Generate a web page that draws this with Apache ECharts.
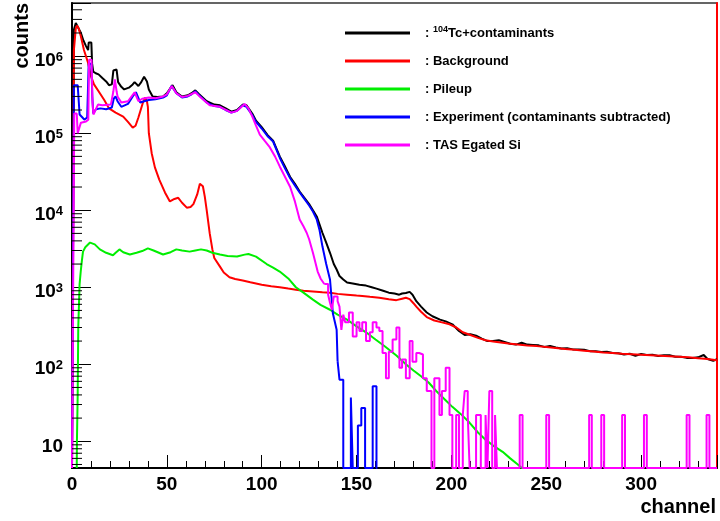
<!DOCTYPE html>
<html><head><meta charset="utf-8">
<script src="https://cdn.jsdelivr.net/npm/echarts@6/dist/echarts.min.js"></script>
<style>html,body{margin:0;padding:0;background:#fff}#c{width:720px;height:521px}</style>
</head><body><div id="c"></div>
<script>
// ---------------- data (channel, counts) ----------------
const seriesNames = ['104Tc+contaminants', 'Background', 'Pileup', 'Experiment (contaminants subtracted)', 'TAS Egated Si'];
const xTickLabels = [0, 50, 100, 150, 200, 250, 300];
const yTickLabels = [10, 100, 1000, 10000, 100000, 1000000];
const yMinorTicks = [5,6,7,8,9,20,30,40,50,60,70,80,90,200,300,400,500,600,700,800,900,
  2000,3000,4000,5000,6000,7000,8000,9000,20000,30000,40000,50000,60000,70000,80000,90000,
  200000,300000,400000,500000,600000,700000,800000,900000,2000000,3000000,4000000];

const tcData = [[0,0],[0.8,0],[1,2.2e6],[2,2.7e6],[3,2.6e6],[4.7,2.0e6],[6,1.6e6],[7.4,1.35e6],[8.5,1.2e6],[8.8,1.5e6],[10.2,1.5e6],[10.6,8e5],[11.2,6.3e5],[12.5,6.0e5],[14,5.8e5],[16,5.2e5],[18,4.7e5],[19.5,4.2e5],[21,4.3e5],[21.8,6.5e5],[23.5,6.7e5],[24.3,4.6e5],[26,4.0e5],[27.5,3.7e5],[30,3.9e5],[32,4.3e5],[33,4.6e5],[35,4.1e5],[36.5,4.6e5],[38,5.4e5],[39.5,4.7e5],[40.5,3.7e5],[42.5,3.0e5],[45,2.95e5],[48,3.0e5],[50,3.3e5],[53,4.2e5],[55,3.4e5],[58,3.0e5],[61,3.1e5],[63,3.3e5],[65,3.6e5],[67,3.2e5],[71,2.6e5],[75,2.35e5],[78,2.3e5],[81,2.1e5],[84,1.9e5],[87,2.0e5],[90,2.35e5],[92,2.3e5],[95,1.8e5],[97,1.45e5],[100,1.2e5],[103,9.5e4],[106,8.0e4],[109.5,5.0e4],[112,3.8e4],[115,2.7e4],[117.5,2.2e4],[120,1.75e4],[122.5,1.45e4],[125,1.2e4],[127,1.0e4],[129,8.3e3],[130.5,6.5e3],[132,5.1e3],[134,3.8e3],[136,2.8e3],[138,2.0e3],[139.5,1.7e3],[141,1.4e3],[143,1.26e3],[145,1.15e3],[148,1.12e3],[151.5,1.08e3],[155,1.05e3],[158,1.0e3],[160.5,960],[164,900],[167,850],[170,830],[172.5,800],[174,830],[176,840],[178,870],[179.5,800],[181.5,660],[184,560],[187,470],[190,420],[194,380],[197,360],[200.5,330],[204,270],[207,240],[210,245],[213,235],[216,215],[219,200],[222,200],[225,205],[228,195],[231,185],[234,180],[237,190],[240,180],[243,178],[246,176],[249,168],[252,173],[255,165],[258,160],[261,162],[264,156],[267,155],[270,154],[273,148],[276,148],[279,144],[282,145],[285,140],[288,139],[291,134],[294,137],[297,129],[300,136],[303,132],[306,133],[309,128],[312,131],[315,131],[318,125],[321,125],[324,121],[327,121],[330,123],[333,132],[335,117],[338,111],[340,116]];

const bgData = [[0,0],[0.8,0],[1,1.2e6],[2,2.3e6],[2.6,2.5e6],[3.5,2.3e6],[4.7,1.8e6],[6.3,1.2e6],[8.4,8.3e5],[10,5.5e5],[11.6,4.3e5],[14,3.5e5],[17,2.7e5],[19.5,2.1e5],[23,1.85e5],[27,1.64e5],[29.5,1.4e5],[32,1.18e5],[33.5,1.25e5],[35,1.6e5],[37.4,2.5e5],[38.5,2.9e5],[39.5,2.6e5],[40,2.2e5],[40.5,1.0e5],[42,5.5e4],[43.7,3.6e4],[46,2.5e4],[49,1.7e4],[51.6,1.3e4],[54,1.4e4],[56,1.45e4],[58,1.25e4],[60.5,1.08e4],[62.5,1.1e4],[64,1.2e4],[66,1.6e4],[67.4,2.2e4],[69,2.05e4],[70,1.5e4],[71,1.0e4],[72.6,5.0e3],[74,3.1e3],[75,2.4e3],[78,1.85e3],[80,1.55e3],[83,1.35e3],[86,1.28e3],[90,1.22e3],[94,1.16e3],[100,1.08e3],[105,1.03e3],[109.5,1.0e3],[114,960],[118,930],[122,900],[127,880],[132,860],[136,850],[140,820],[145,800],[150,780],[153,770],[157,750],[162,730],[167,700],[171,680],[174,710],[176,730],[178,700],[180,620],[181.5,560],[184,480],[187,410],[191,370],[195,350],[199,330],[202.6,300],[206,260],[210,240],[214,220],[218,205],[222,198],[226,192],[230,186],[235,180],[240,175],[245,172],[250,168],[255,163],[260,158],[265,154],[270,150],[275,146],[280,142],[285,140],[290,137],[295,135],[300,133],[305,131],[310,129],[315,127],[320,125],[325,123],[330,120],[335,117],[340,113]];

const pileupData = [[2.5,0],[2.6,10],[3.0,40],[3.3,300],[4.0,1100],[4.6,1600],[5.2,2200],[5.8,2900],[7,3300],[9.5,3800],[10.5,3800],[12,3600],[14.7,3100],[18,2800],[21.6,2600],[23,2800],[25,3100],[27,2850],[30.5,2660],[34,2800],[37,2950],[40,3200],[43,3000],[48,2660],[52,2850],[55,3100],[58,3000],[62,2900],[65,3000],[68,3100],[71,3000],[74,2800],[78,2660],[82,2550],[87,2500],[91,2650],[93,2700],[97,2500],[102.6,2000],[106,1800],[109.5,1600],[114,1300],[118,1000],[122,850],[127,690],[131,590],[136,510],[140,440],[145,380],[150,310],[155,260],[160,210],[165,170],[171,130],[176,100],[180,83],[184,70],[188,58],[192,45],[196,36],[200.5,28],[205,22.5],[209.5,17.5],[214,13],[218,10.5],[222,8.8],[227,7.3],[231,6.0],[235,5.0],[238,4.3]];

const expData = [[0,0],[0.8,0],[1,4.2e5],[3,4.2e5],[3.6,2.5e5],[4,1.75e5],[5.5,1.6e5],[6.5,1.5e5],[8,1.6e5],[8.8,8.0e5],[10.2,8.0e5],[10.7,3.0e5],[11.2,1.8e5],[12.6,2.05e5],[15,2.1e5],[18,2.05e5],[21,2.15e5],[22,2.8e5],[23,3.0e5],[24,2.6e5],[26,2.2e5],[29.5,2.4e5],[32,3.0e5],[33.7,3.4e5],[36,2.5e5],[38,2.6e5],[40.5,2.7e5],[44,2.75e5],[48,2.9e5],[50,3.1e5],[52.5,4.1e5],[55,3.3e5],[58,2.9e5],[61,3.0e5],[63,3.2e5],[65,3.5e5],[67,3.1e5],[71,2.5e5],[75,2.25e5],[78,2.2e5],[81,2.0e5],[84,1.85e5],[87,1.95e5],[90,2.3e5],[92,2.2e5],[95,1.72e5],[97,1.4e5],[100,1.15e5],[103,9.2e4],[106,7.8e4],[109.5,4.8e4],[112,3.6e4],[115,2.6e4],[117.5,2.1e4],[120,1.7e4],[122.5,1.4e4],[125,1.15e4],[127,9.6e3],[129,7.6e3],[130.5,5.5e3],[132,3.4e3],[134,2.0e3],[136,1.26e3],[137.5,460],[139.5,280],[140,110]];
const expTail = [[140,110],[141,63],[143,0],[147,37],[148,0],[150.7,16],[152.5,27],[154.5,0],[158.5,52],[160.5,0],[161,0]];

const tasData = [[0,0],[1,0],[1.2,1.8e5],[2.5,1.8e5],[3,1.0e5],[3.8,1.0e5],[4.7,1.37e5],[7.4,1.42e5],[8.6,1.5e5],[9,9.0e5],[10.3,9.0e5],[10.8,2.5e5],[11.3,1.75e5],[13.7,2.35e5],[16,2.3e5],[20.5,2.35e5],[21.8,3.5e5],[22.6,5.0e5],[23.5,3.5e5],[24,3.0e5],[26,2.5e5],[29.5,2.6e5],[33,3.4e5],[35,2.6e5],[37,2.8e5],[40.5,2.9e5],[44,2.85e5],[48,3.0e5],[50,3.2e5],[52.6,4.1e5],[55,3.3e5],[58,2.95e5],[61,3.05e5],[65,3.4e5],[67,3.05e5],[72.6,2.3e5],[78,2.2e5],[84,1.85e5],[87,1.95e5],[91,2.4e5],[93,2.1e5],[95,1.65e5],[97,1.25e5],[99,9.6e4],[101.5,8.0e4],[104,6.7e4],[107,5.0e4],[109.5,3.7e4],[112,2.8e4],[115,2.0e4],[117.5,1.3e4],[120,7.6e3],[122,6.2e3],[123.7,5.1e3],[125,4.2e3],[127,2.8e3],[129.5,1.6e3],[131,1.3e3],[133,1.1e3]];
const tasTail = [[133,1100],[135,800],[136,630],[137,510],[138,760],[140,660],[141,560],[142,280],[143,440],[144,350],[146,470],[148,230],[150,350],[151.5,270],[153,350],[155,200],[157,260],[158.5,350],[160.5,300],[162,270],[163.7,140],[165.5,66],[167,145],[169,210],[171,300],[172.6,90],[174,115],[176,66],[178,200],[179.5,108],[181.5,140],[183,134],[185,66],[187,45],[189.5,0],[191,66],[193.7,22],[195,45],[197,90],[199,22],[200.5,0],[202.5,22],[204,0],[206,22],[207,45],[208.6,22],[209.6,0],[213,22],[215.5,0],[218,22],[219,0],[220,45],[221.5,0],[223,22],[224,0],[236,22],[237.5,0],[250,22],[251.5,0],[272.6,22],[274,0],[279,22],[280.5,0],[290,22],[291.5,0],[301.5,22],[303,0],[324,22],[325.5,0],[334.5,22],[336,0],[340,0]];

// ---------------- chart ----------------
const Y_MIN = 4.5, Y_MAX = 4.9e6, X_MIN = 0, X_MAX = 340;
const FONT = '"Liberation Sans", Arial, Helvetica, sans-serif';
const toPlot = arr => arr.map(([c, v]) => [c, v > 0 ? v : Y_MIN]); // empty bins drawn on the frame bottom

function hist(name, data, color, step) {
  return {
    name, type: 'line', data: toPlot(data), xAxisIndex: 0, yAxisIndex: 0,
    symbol: 'none', showSymbol: false, step: step ? 'end' : false,
    color, lineStyle: { color, width: 2 }, itemStyle: { color },
    clip: true, silent: true, z: 2
  };
}

const chart = echarts.init(document.getElementById('c'), null, { renderer: 'canvas' });
chart.setOption({
  animation: false,
  backgroundColor: '#fff',
  grid: { left: 72, right: 2, top: 3, bottom: 53, show: true, borderColor: '#333', borderWidth: 1.5, backgroundColor: 'transparent' },
  xAxis: [
    { type: 'value', min: X_MIN, max: X_MAX, interval: 50, position: 'bottom',
      axisLine: { show: true, onZero: false, lineStyle: { color: '#000', width: 2 } },
      axisTick: { show: true, inside: true, length: 13, lineStyle: { color: '#000', width: 1 } },
      splitLine: { show: false },
      axisLabel: { margin: 7, fontFamily: FONT, fontSize: 19, fontWeight: 'bold', color: '#000',
        formatter: v => xTickLabels.includes(v) ? String(v) : '' } },
    { type: 'value', min: X_MIN, max: X_MAX, interval: 10, position: 'bottom',
      axisLine: { show: false }, axisLabel: { show: false }, splitLine: { show: false },
      axisTick: { show: true, inside: true, length: 7, lineStyle: { color: '#000', width: 1 } } }
  ],
  yAxis: [
    { type: 'log', logBase: 10, min: Y_MIN, max: Y_MAX, position: 'left',
      axisLine: { show: true, onZero: false, lineStyle: { color: '#000', width: 2 } },
      axisTick: { show: true, inside: true, length: 19, lineStyle: { color: '#000', width: 1 } },
      splitLine: { show: false },
      axisLabel: { margin: 9, padding: [10, 0, 0, 0],
        formatter: v => {
          const hit = yTickLabels.find(t => Math.abs(t - v) / t < 1e-6);
          if (!hit) return '';
          const e = Math.round(Math.log10(hit));
          return e === 1 ? '{b|10}' : '{b|10}{s|' + e + '}';
        },
        rich: {
          b: { fontFamily: FONT, fontSize: 19, fontWeight: 'bold', color: '#000', lineHeight: 20 },
          s: { fontFamily: FONT, fontSize: 13, fontWeight: 'bold', color: '#000', lineHeight: 14, padding: [0, 0, 8, 0] }
        } } },
    { type: 'log', logBase: 10, min: Y_MIN, max: Y_MAX, position: 'right',
      axisLine: { show: true, onZero: false, lineStyle: { color: '#ff0000', width: 2 } },
      axisTick: { show: false }, axisLabel: { show: false }, splitLine: { show: false } }
  ],
  legend: {
    show: true, orient: 'vertical', left: 340, top: 20, itemWidth: 65, itemHeight: 3, itemGap: 12,
    icon: 'rect', selectedMode: false, data: seriesNames,
    formatter: n => n === seriesNames[0] ? ': {sup|104}Tc+contaminants' : ': ' + n,
    textStyle: { fontFamily: FONT, fontSize: 13, fontWeight: 'bold', color: '#000', lineHeight: 16, padding: [0, 0, 0, 10],
      rich: { sup: { fontFamily: FONT, fontSize: 9, fontWeight: 'bold', color: '#000', verticalAlign: 'top', lineHeight: 10 } } }
  },
  graphic: [
    { type: 'text', x: 32, y: 3, rotation: Math.PI / 2, silent: true,
      style: { text: 'counts', font: 'bold 20px ' + FONT, fill: '#000', align: 'right', verticalAlign: 'bottom' } },
    { type: 'text', x: 716, y: 517, silent: true,
      style: { text: 'channel', font: 'bold 20px ' + FONT, fill: '#000', align: 'right', verticalAlign: 'bottom' } }
  ],
  series: [
    hist(seriesNames[0], tcData, '#000000', false),
    hist(seriesNames[1], bgData, '#ff0000', false),
    hist(seriesNames[2], pileupData, '#00ee00', false),
    hist(seriesNames[3], expData, '#0000ff', false),
    hist(seriesNames[3], expTail, '#0000ff', true),
    hist(seriesNames[4], tasData, '#ff00ff', false),
    hist(seriesNames[4], tasTail, '#ff00ff', true),
    { type: 'custom', xAxisIndex: 0, yAxisIndex: 0, silent: true, z: 5, clip: true,
      data: yMinorTicks.map(v => [X_MIN, v]),
      renderItem: (params, api) => {
        const p = api.coord([api.value(0), api.value(1)]);
        return { type: 'line', shape: { x1: p[0], y1: p[1], x2: p[0] + 10, y2: p[1] },
                 style: { stroke: '#000', lineWidth: 1 } };
      } }
  ]
});
</script></body></html>
